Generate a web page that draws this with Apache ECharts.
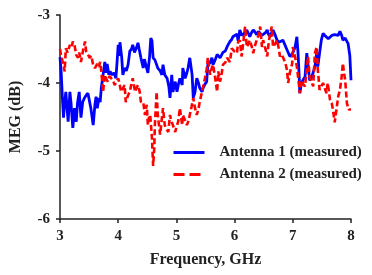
<!DOCTYPE html>
<html><head><meta charset="utf-8">
<script src="https://cdn.jsdelivr.net/npm/echarts@6/dist/echarts.min.js"></script>
<style>html,body{margin:0;padding:0;background:#fff}#c{width:372px;height:275px}</style>
</head><body><div id="c"></div>
<script>
const freq1 = [3.00,3.02,3.04,3.06,3.08,3.10,3.12,3.14,3.17,3.19,3.22,3.25,3.28,3.30,3.33,3.36,3.39,3.42,3.45,3.48,
3.51,3.53,3.57,3.60,3.62,3.64,3.67,3.69,3.71,3.74,3.77,3.79,3.81,3.84,3.86,3.90,3.93,3.96,3.98,4.00,
4.02,4.03,4.06,4.08,4.11,4.14,4.17,4.20,4.23,4.25,4.28,4.31,4.34,4.36,4.39,4.43,4.45,4.48,4.51,4.54,
4.56,4.58,4.60,4.63,4.66,4.68,4.72,4.75,4.77,4.80,4.84,4.87,4.89,4.92,4.94,4.98,5.01,5.04,5.06,5.10,
5.11,5.15,5.18,5.20,5.23,5.27,5.29,5.32,5.35,5.38,5.40,5.44,5.46,5.49,5.52,5.54,5.58,5.61,5.63,5.67,
5.70,5.75,5.80,5.84,5.88,5.92,5.95,5.97,6.00,6.04,6.06,6.09,6.12,6.14,6.18,6.21,6.24,6.26,6.29,6.32,
6.35,6.38,6.41,6.44,6.47,6.49,6.53,6.56,6.58,6.61,6.63,6.66,6.70,6.73,6.76,6.78,6.83,6.87,6.90,6.95,
7.00,7.04,7.07,7.09,7.11,7.12,7.15,7.18,7.21,7.24,7.26,7.29,7.32,7.35,7.38,7.41,7.43,7.46,7.49,7.52,
7.55,7.58,7.61,7.64,7.67,7.69,7.72,7.75,7.78,7.81,7.84,7.86,7.90,7.93,7.95,7.98,8.00];
const meg1 = [-3.62,-3.84,-4.20,-4.51,-4.30,-4.13,-4.35,-4.57,-4.13,-4.30,-4.66,-4.37,-4.57,-4.30,-4.13,-4.51,-4.28,-4.22,-4.18,-4.15,
-4.13,-4.37,-4.62,-4.32,-4.20,-4.37,-4.22,-4.28,-4.07,-3.88,-3.69,-3.85,-3.72,-3.88,-3.83,-3.88,-3.85,-3.93,-3.70,-3.44,
-3.60,-3.40,-3.62,-3.88,-3.78,-3.82,-3.73,-3.53,-3.50,-3.44,-3.55,-3.49,-3.41,-3.50,-3.63,-3.78,-3.65,-3.63,-3.85,-3.60,
-3.34,-3.38,-3.63,-3.66,-3.73,-3.78,-3.82,-3.88,-3.73,-3.88,-3.93,-4.05,-4.22,-3.88,-4.13,-3.98,-4.13,-4.00,-3.93,-4.03,
-3.78,-3.93,-3.85,-3.78,-3.63,-3.88,-4.22,-4.13,-3.93,-4.00,-4.07,-4.13,-4.07,-4.02,-3.98,-3.73,-3.70,-3.63,-3.73,-3.65,
-3.58,-3.63,-3.55,-3.53,-3.45,-3.39,-3.36,-3.32,-3.30,-3.28,-3.38,-3.22,-3.30,-3.32,-3.26,-3.22,-3.28,-3.32,-3.26,-3.22,
-3.25,-3.29,-3.24,-3.27,-3.30,-3.32,-3.26,-3.22,-3.28,-3.32,-3.27,-3.22,-3.30,-3.37,-3.40,-3.42,-3.37,-3.45,-3.51,-3.61,
-3.56,-3.47,-3.32,-3.56,-3.90,-4.15,-4.00,-3.95,-3.91,-3.56,-3.71,-3.96,-3.93,-3.91,-3.76,-3.56,-3.76,-3.56,-3.37,-3.27,
-3.30,-3.32,-3.35,-3.37,-3.30,-3.32,-3.29,-3.27,-3.30,-3.24,-3.30,-3.37,-3.34,-3.32,-3.42,-3.60,-3.96];
const freq2 = [3.00,3.02,3.05,3.08,3.10,3.13,3.17,3.20,3.22,3.25,3.28,3.31,3.33,3.36,3.40,3.43,3.45,3.48,3.51,3.54,
3.57,3.60,3.64,3.67,3.69,3.71,3.74,3.77,3.80,3.82,3.85,3.88,3.91,3.94,3.97,4.00,4.02,4.05,4.08,4.11,
4.13,4.17,4.20,4.23,4.25,4.29,4.31,4.34,4.37,4.39,4.43,4.46,4.49,4.51,4.53,4.55,4.58,4.60,4.62,4.63,
4.66,4.68,4.72,4.75,4.77,4.80,4.83,4.86,4.89,4.91,4.94,4.98,5.00,5.03,5.06,5.08,5.10,5.11,5.15,5.18,
5.21,5.23,5.26,5.29,5.32,5.35,5.38,5.40,5.44,5.46,5.49,5.52,5.54,5.58,5.60,5.63,5.67,5.70,5.72,5.75,
5.78,5.80,5.84,5.87,5.92,5.95,5.97,6.00,6.04,6.06,6.09,6.12,6.15,6.18,6.21,6.24,6.26,6.29,6.32,6.35,
6.38,6.41,6.44,6.47,6.49,6.53,6.56,6.58,6.61,6.64,6.66,6.70,6.73,6.76,6.78,6.81,6.83,6.87,6.90,6.92,
6.95,6.99,7.00,7.04,7.07,7.10,7.12,7.15,7.18,7.21,7.24,7.26,7.29,7.32,7.35,7.38,7.41,7.43,7.46,7.49,
7.52,7.55,7.58,7.60,7.64,7.67,7.69,7.72,7.75,7.78,7.81,7.84,7.86,7.88,7.90,7.93,7.96,8.00];
const meg2 = [-3.50,-3.60,-3.70,-3.83,-3.49,-3.55,-3.44,-3.48,-3.39,-3.45,-3.59,-3.63,-3.55,-3.69,-3.50,-3.39,-3.54,-3.58,-3.63,-3.60,
-3.74,-3.78,-3.72,-3.76,-3.69,-3.83,-4.13,-3.88,-3.95,-3.98,-3.90,-3.88,-3.96,-4.03,-3.98,-3.93,-4.00,-4.13,-4.08,-4.03,
-4.28,-4.18,-4.13,-4.00,-3.93,-4.13,-4.08,-4.03,-4.13,-4.28,-4.28,-4.47,-4.32,-4.62,-4.50,-4.47,-4.81,-5.22,-4.95,-4.62,
-4.13,-4.47,-4.76,-4.52,-4.37,-4.62,-4.68,-4.72,-4.47,-4.55,-4.62,-4.72,-4.65,-4.57,-4.37,-4.50,-4.62,-4.47,-4.55,-4.62,
-4.55,-4.47,-4.35,-4.22,-4.37,-4.47,-4.38,-4.28,-4.13,-4.05,-3.93,-3.80,-3.63,-3.88,-3.80,-3.73,-3.95,-4.13,-3.83,-3.98,
-3.85,-3.73,-3.70,-3.63,-3.69,-3.49,-3.47,-3.54,-3.56,-3.40,-3.37,-3.61,-3.40,-3.17,-3.47,-3.42,-3.37,-3.45,-3.56,-3.45,
-3.37,-3.30,-3.17,-3.47,-3.37,-3.50,-3.61,-3.45,-3.27,-3.17,-3.47,-3.42,-3.37,-3.50,-3.61,-3.58,-3.56,-3.70,-3.81,-4.00,
-3.85,-3.71,-3.47,-3.62,-3.76,-3.98,-4.15,-3.96,-4.02,-4.05,-3.80,-3.61,-3.91,-3.98,-4.05,-3.56,-3.47,-3.80,-4.10,-4.05,
-4.00,-4.08,-4.15,-4.00,-4.25,-4.30,-4.39,-4.58,-4.39,-4.20,-4.10,-3.90,-3.71,-3.85,-3.96,-4.30,-4.39,-4.39];
const yTicks = [-6,-5,-4,-3];
const xTicks = [3,4,5,6,7,8];
const seriesNames = ['Antenna 1 (measured)','Antenna 2 (measured)'];

const font = '"Liberation Serif","Times New Roman",serif';
const chart = echarts.init(document.getElementById('c'), null, {renderer:'canvas'});
chart.setOption({
  animation:false,
  grid:{left:60, top:15, right:21, bottom:56},
  xAxis:{type:'value', min:xTicks[0], max:xTicks[xTicks.length-1], interval:1,
    name:'Frequency, GHz', nameLocation:'middle', nameGap:33,
    nameTextStyle:{fontFamily:font, fontWeight:'bold', fontSize:16, color:'#222'},
    axisLine:{lineStyle:{color:'#222', width:1.5}},
    axisTick:{length:4, lineStyle:{color:'#222', width:1.5}},
    axisLabel:{fontFamily:font, fontWeight:'bold', fontSize:15, color:'#222', margin:10},
    splitLine:{show:false}},
  yAxis:{type:'value', min:yTicks[0], max:yTicks[yTicks.length-1], interval:1,
    name:'MEG (dB)', nameLocation:'middle', nameGap:36,
    nameTextStyle:{fontFamily:font, fontWeight:'bold', fontSize:16, color:'#222'},
    axisLine:{show:true, lineStyle:{color:'#222', width:1.5}},
    axisTick:{show:true, length:4, lineStyle:{color:'#222', width:1.5}},
    axisLabel:{fontFamily:font, fontWeight:'bold', fontSize:15, color:'#222', margin:10},
    splitLine:{show:false}},
  legend:{orient:'vertical', left:167, top:140, itemWidth:31, itemHeight:12, itemGap:7,
    itemStyle:{opacity:0},
    textStyle:{fontFamily:font, fontWeight:'bold', fontSize:15, color:'#222', padding:[0,0,0,10]},
    data:[{name:seriesNames[0], lineStyle:{width:3}},
          {name:seriesNames[1], lineStyle:{width:3, type:[11,5]}}]},
  series:[
    {name:seriesNames[0], type:'line', symbol:'none', data:freq1.map((f,i)=>[f,meg1[i]]),
      lineStyle:{color:'#0000ff', width:2.8}, itemStyle:{color:'#0000ff'}},
    {name:seriesNames[1], type:'line', symbol:'none', data:freq2.map((f,i)=>[f,meg2[i]]),
      lineStyle:{color:'#ff0000', width:2.6, type:[6,3]}, itemStyle:{color:'#ff0000'}}
  ]
});
</script></body></html>
